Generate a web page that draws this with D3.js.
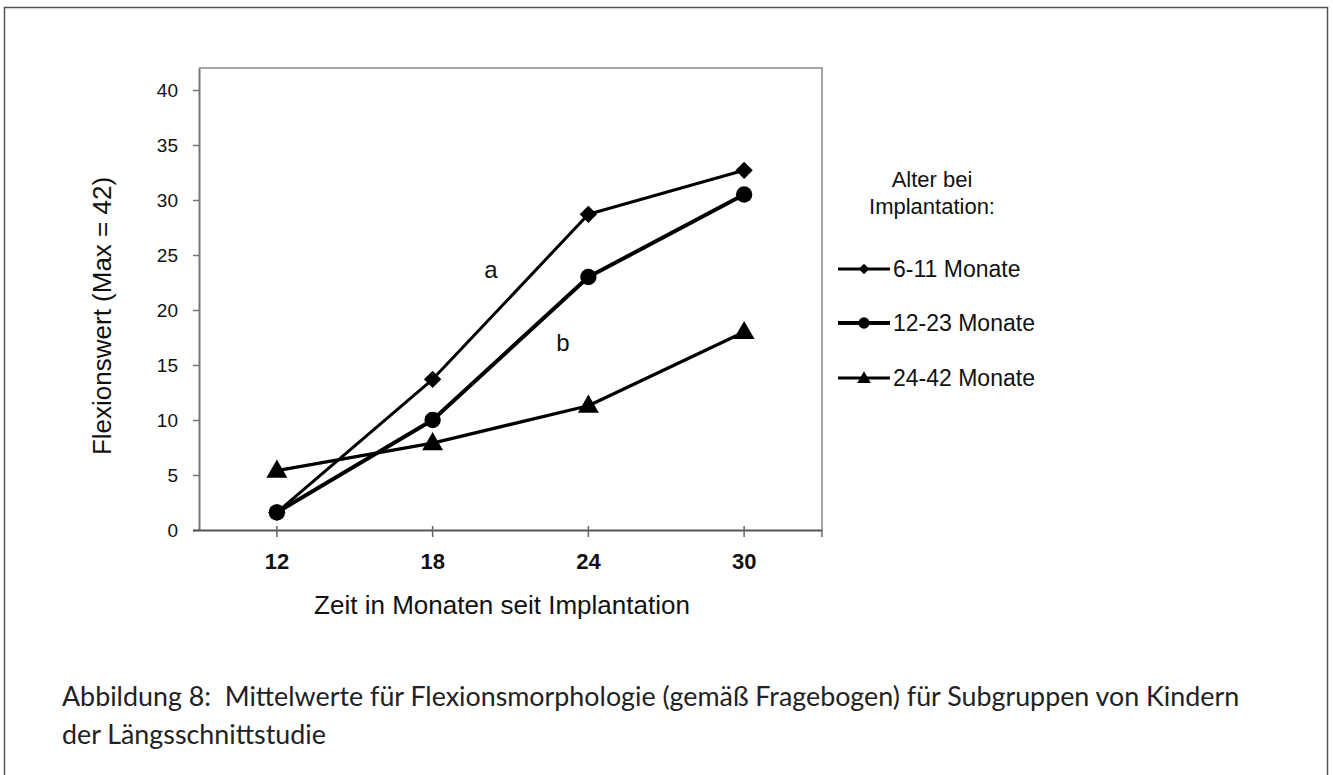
<!DOCTYPE html>
<html>
<head>
<meta charset="utf-8">
<title>Flexionsmorphologie</title>
<script src="https://cdn.jsdelivr.net/npm/d3@7"></script>
<style>
  body { margin: 0; background: #fff; }
  svg { display: block; }
  .chart text { font-family: "Liberation Sans", Arial, sans-serif; fill: #111; }
  .caption { font-family: Lato, "Open Sans", sans-serif; fill: #222; }
</style>
</head>
<body>
<svg id="fig" width="1333" height="775"></svg>
<script>

// data
var months = ["12", "18", "24", "30"];
var seriesNames = ["6-11 Monate", "12-23 Monate", "24-42 Monate"];
var vals611 = [1.6, 13.7, 28.7, 32.7];
var vals1223 = [1.6, 10.0, 23.0, 30.5];
var vals2442 = [5.4, 7.9, 11.3, 18.0];
var yTicks = [0, 5, 10, 15, 20, 25, 30, 35, 40];
var yMax = 42;
var yTitle = "Flexionswert (Max = 42)";
var xTitle = "Zeit in Monaten seit Implantation";
var legendTitle = ["Alter bei", "Implantation:"];
var captionLines = [
  "Abbildung 8:\u00a0 Mittelwerte für Flexionsmorphologie (gemäß Fragebogen) für Subgruppen von Kindern",
  "der Längsschnittstudie"
];

var svg = d3.select("#fig");

/* outer frame, open at the bottom */
svg.append("path")
  .attr("d", "M4.5,780 V7.5 H1327.5 V780")
  .attr("fill", "none")
  .attr("stroke", "#555")
  .attr("stroke-width", 1.5);

var plot = { left: 199, right: 822, top: 68, bottom: 530 };

var x = d3.scaleBand().domain(months).range([plot.left, plot.right]);
var y = d3.scaleLinear().domain([0, yMax]).range([plot.bottom, plot.top]);

var g = svg.append("g").attr("class", "chart");

/* plot area border (top and right) */
g.append("path")
  .attr("d", "M" + plot.left + "," + plot.top + " H" + plot.right + " V" + plot.bottom)
  .attr("fill", "none")
  .attr("stroke", "#888")
  .attr("stroke-width", 1.5);

/* y axis */
var yAxis = g.append("g")
  .attr("transform", "translate(" + plot.left + ",0)")
  .call(d3.axisLeft(y).tickValues(yTicks).tickSize(6).tickPadding(15).tickSizeOuter(0));
yAxis.select(".domain").attr("stroke", "#777").attr("stroke-width", 2);
yAxis.selectAll(".tick line").attr("stroke", "#777").attr("stroke-width", 1.5);
yAxis.selectAll(".tick text")
  .attr("font-size", 19)
  .attr("font-family", "Liberation Sans, Arial, sans-serif")
  .attr("fill", "#111");

/* x axis */
var xAxis = g.append("g")
  .attr("transform", "translate(0," + plot.bottom + ")")
  .call(d3.axisBottom(x).tickSize(7).tickPadding(16).tickSizeOuter(0));
xAxis.select(".domain")
  .attr("d", "M" + (plot.left - 6) + ",0.5 H" + plot.right)
  .attr("stroke", "#555")
  .attr("stroke-width", 2);
xAxis.selectAll(".tick line").attr("y1", -4).attr("stroke", "#666").attr("stroke-width", 1.5);
xAxis.selectAll(".tick text")
  .attr("font-size", 22)
  .attr("font-weight", "bold")
  .attr("font-family", "Liberation Sans, Arial, sans-serif")
  .attr("fill", "#111");
xAxis.append("line")
  .attr("x1", x.range()[1]).attr("x2", x.range()[1])
  .attr("y1", 0).attr("y2", 7)
  .attr("stroke", "#666").attr("stroke-width", 1.5);

/* axis titles */
g.append("text")
  .attr("transform", "translate(111,316) rotate(-90)")
  .attr("text-anchor", "middle")
  .attr("font-size", 26)
  .text(yTitle);

g.append("text")
  .attr("x", 502)
  .attr("y", 614)
  .attr("text-anchor", "middle")
  .attr("font-size", 26)
  .text(xTitle);

/* series */
var series = [
  { name: seriesNames[0], values: vals611, symbol: "diamond", width: 3 },
  { name: seriesNames[1], values: vals1223, symbol: "circle", width: 4 },
  { name: seriesNames[2], values: vals2442, symbol: "triangle", width: 3.2 }
];

function markerPath(kind, big) {
  if (kind === "diamond") return d3.symbol(d3.symbolSquare, big ? 150 : 55)();
  if (kind === "circle") return d3.symbol(d3.symbolCircle, big ? 210 : 100)();
  return d3.symbol(d3.symbolTriangle, big ? 190 : 80)();
}
function markerTransform(kind, px, py) {
  if (kind === "diamond") return "translate(" + px + "," + py + ") rotate(45)";
  if (kind === "triangle") return "translate(" + px + "," + (py + 1) + ")";
  return "translate(" + px + "," + py + ")";
}

var line = d3.line()
  .x(function(d, i) { return x(months[i]) + x.bandwidth() / 2; })
  .y(function(d) { return y(d); });

var sg = g.selectAll(".series")
  .data(series)
  .enter().append("g")
  .attr("class", "series");

sg.append("path")
  .attr("d", function(s) { return line(s.values); })
  .attr("fill", "none")
  .attr("stroke", "#000")
  .attr("stroke-width", function(s) { return s.width; })
  .attr("stroke-linejoin", "round");

sg.each(function(s) {
  d3.select(this).selectAll("path.mark")
    .data(s.values)
    .enter().append("path")
    .attr("class", "mark")
    .attr("d", markerPath(s.symbol, true))
    .attr("transform", function(d, i) {
      return markerTransform(s.symbol, x(months[i]) + x.bandwidth() / 2, y(d));
    })
    .attr("fill", "#000");
});

/* a / b labels */
g.append("text").attr("class", "caption")
  .attr("x", 491).attr("y", 278).attr("text-anchor", "middle")
  .attr("font-size", 24).attr("font-family", "Lato, sans-serif").text("a");
g.append("text").attr("class", "caption")
  .attr("x", 563).attr("y", 351).attr("text-anchor", "middle")
  .attr("font-size", 24).attr("font-family", "Lato, sans-serif").text("b");

/* legend */
var legend = g.append("g");
legend.selectAll("text.title")
  .data(legendTitle)
  .enter().append("text")
  .attr("class", "title")
  .attr("x", 932)
  .attr("y", function(d, i) { return 187 + i * 27; })
  .attr("text-anchor", "middle")
  .attr("font-size", 22)
  .text(function(d) { return d; });

var legendY = [269, 323, 378];
var li = legend.selectAll("g.item")
  .data(series)
  .enter().append("g")
  .attr("class", "item")
  .attr("transform", function(d, i) { return "translate(0," + legendY[i] + ")"; });

li.append("line")
  .attr("x1", 838).attr("x2", 890)
  .attr("stroke", "#000")
  .attr("stroke-width", function(s) { return s.width; });
li.append("path")
  .attr("d", function(s) { return markerPath(s.symbol, false); })
  .attr("transform", function(s) { return markerTransform(s.symbol, 864, 0); })
  .attr("fill", "#000");
li.append("text")
  .attr("x", 893)
  .attr("y", 8)
  .attr("font-size", 23)
  .text(function(s) { return s.name; });

/* caption, sized so the first line spans the same width as in the figure */
var cap = svg.selectAll("text.caption-line")
  .data(captionLines)
  .enter().append("text")
  .attr("class", "caption caption-line")
  .attr("x", 62)
  .attr("y", function(d, i) { return 706 + i * 38; })
  .attr("font-size", 20)
  .text(function(d) { return d; });

var w = cap.node().getComputedTextLength();
var fs = 20 * 1178 / w;
cap.attr("font-size", fs);

</script>
</body>
</html>
